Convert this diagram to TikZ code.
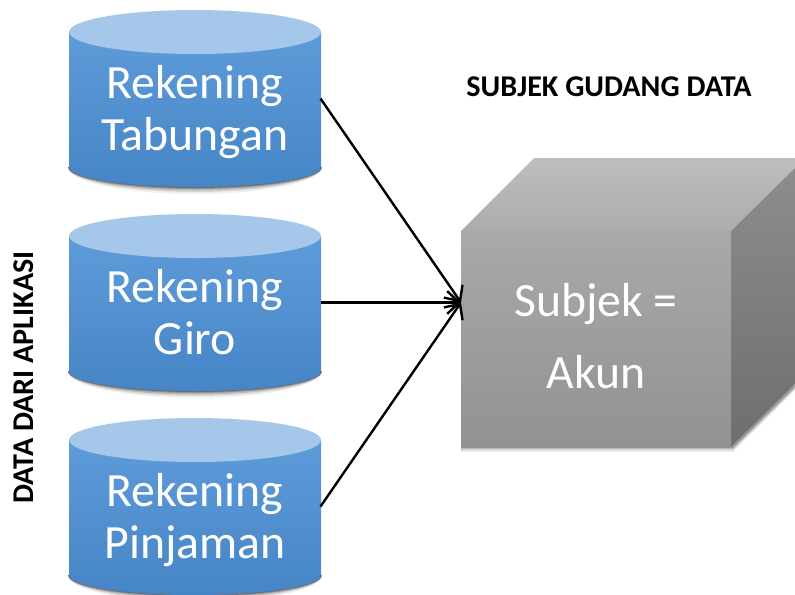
\documentclass[tikz,border=0pt]{standalone}
\usepackage{fontspec}
\setmainfont{Carlito}
\usetikzlibrary{arrows.meta}
\definecolor{captop}{HTML}{A5C7E9}
\definecolor{bodytop}{HTML}{5E9BD9}
\definecolor{bodybot}{HTML}{4685C6}
\definecolor{frontTop}{HTML}{A9A9A9}
\definecolor{frontBot}{HTML}{929292}
\definecolor{topBack}{HTML}{BEBEBE}
\definecolor{topFront}{HTML}{ACACAC}
\definecolor{sideTop}{HTML}{8E8E8E}
\definecolor{sideBot}{HTML}{6E6E6E}
\tikzset{
  big/.style={text=white,font=\fontsize{35.8}{35.8}\selectfont,anchor=base,inner sep=0pt},
  heading/.style={text=black,font=\bfseries\fontsize{22.6}{22.6}\selectfont,anchor=base,inner sep=0pt},
  frame/.style={minimum width=251*0.75pt,minimum height=177*0.75pt,inner sep=0pt,outer sep=0pt},
  link/.style={draw=black,line width=1.8pt,-{Straight Barb[length=9pt,width=17pt,line width=1.8pt]}},
}
\newcommand{\can}[3]{% name, top y, label lines
  \begin{scope}[yshift=-#2*0.75pt]
    \foreach \s/\o in {7/.06,5/.10,3.5/.14,2/.20,1/.25}{
      \fill[black,opacity=\o] (68,167) arc[x radius=127,y radius={20+\s},start angle=180,end angle=0] -- cycle;
    }
    \shade[top color=bodytop,bottom color=bodybot] (69,32) -- (69,167) arc[x radius=126,y radius=20,start angle=180,end angle=0] -- (321,32) -- cycle;
    \fill[captop] (195,32) ellipse[x radius=126,y radius=22];
    \node[frame] (#1) at (195,98.5) {};
    #3
  \end{scope}
}
\begin{document}
\begin{tikzpicture}[x=0.75pt,y=-0.75pt]
\useasboundingbox (0,0) rectangle (795,594);
\clip (0,0) rectangle (795,594);
\fill[white] (0,0) rectangle (795,594);
% cube shadow
\foreach \s/\o in {5/.06,3.5/.09,2/.13,1/.18}{
  \fill[black,opacity=\o] (461,447) -- (461,447+\s) -- (733,447+\s) -- (805+\s,376) -- (805,374) -- (731,447) -- cycle;
}
\shade[top color=topBack,bottom color=topFront] (461,231) -- (534,158) -- (805,158) -- (731,231) -- cycle;
\shade[top color=sideTop,bottom color=sideBot] (731,231) -- (805,158) -- (805,374) -- (731,447) -- cycle;
\shade[top color=frontTop,bottom color=frontBot] (461,231) rectangle (731,447);
\node[inner sep=0pt,outer sep=0pt,minimum width=270*0.75pt,minimum height=216*0.75pt] (cube) at (596,339) {};
\node[big] (subjek) at (596,316) {Subjek =};
\node[big] (akun) at (596,388) {Akun};
\can{tab}{0}{\node[big] (t1) at (195,98) {Rekening}; \node[big] (t2) at (195,150) {Tabungan};}
\can{gir}{204}{\node[big] (g1) at (195,98) {Rekening}; \node[big] (g2) at (195,150) {Giro};}
\can{pin}{408}{\node[big] (p1) at (195,98) {Rekening}; \node[big] (p2) at (195,150) {Pinjaman};}
\coordinate (target) at (cube.west |- gir.east);
\draw[link] (tab.east) -- (target);
\draw[link] (gir.east) -- (target);
\draw[link] (pin.east) -- (target);
\node[heading] (hsub) at (609,96) {SUBJEK GUDANG DATA};
\node[heading,rotate=90] (hdat) at (33,377.5) {DATA DARI APLIKASI};
\end{tikzpicture}
\end{document}
